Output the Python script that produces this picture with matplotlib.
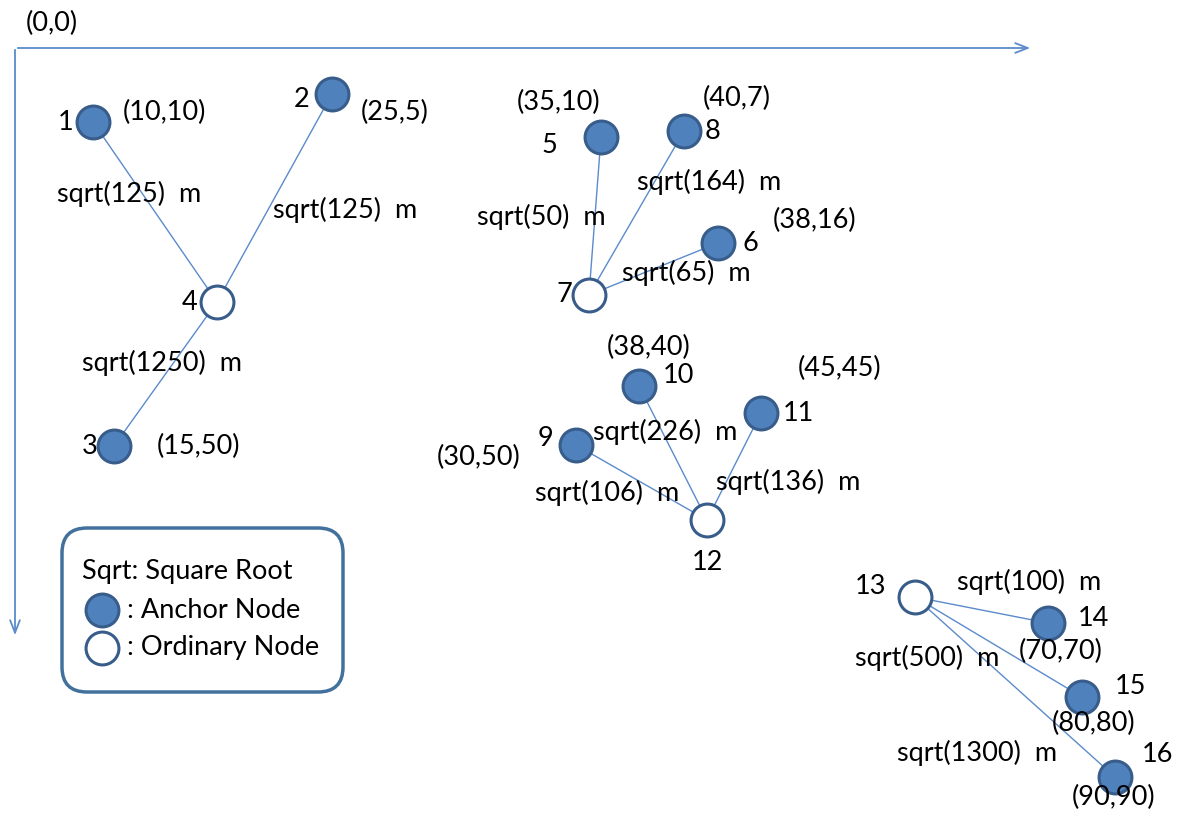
import matplotlib.pyplot as plt
from matplotlib.patches import FancyBboxPatch

# node layout (picture pixels, y grows downward)
node_ids = [1, 2, 3, 4, 5, 6, 7, 8, 9, 10, 11, 12, 13, 14, 15, 16]
node_x = [93, 332, 114, 217, 601, 718, 589, 684, 576, 639, 761, 707, 915, 1048, 1082, 1115]
node_y = [122, 94, 446, 302, 137, 243, 295, 131, 445, 386, 413, 520, 597, 623, 697, 777]
anchor = [True, True, True, False, True, True, False, True,
          True, True, True, False, False, True, True, True]

# where each node number is written (left edge, centre y)
id_lx = [58, 294, 82, 182, 541, 742, 556, 705, 538, 663, 783, 692, 855, 1078, 1115, 1142]
id_ly = [122, 99, 446, 302, 145, 243, 295, 131, 438, 375, 413, 563, 587, 619, 687, 755]

# coordinates of the anchor nodes
coord_text = ['(10,10)', '(25,5)', '(15,50)', '(35,10)', '(38,16)', '(40,7)',
              '(30,50)', '(38,40)', '(45,45)', '(70,70)', '(80,80)', '(90,90)']
coord_lx = [123, 361, 157, 517, 773, 703, 437, 607, 798, 1019, 1052, 1072]
coord_ly = [112, 112, 446, 102, 220, 98, 457, 347, 368, 651, 723, 797]

# links: anchor -> ordinary node, with distance text
edges = [(1, 4), (2, 4), (3, 4), (5, 7), (8, 7), (6, 7),
         (9, 12), (10, 12), (11, 12), (14, 13), (15, 13), (16, 13)]
dist_text = ['sqrt(125)  m', 'sqrt(125)  m', 'sqrt(1250)  m', 'sqrt(50)  m', 'sqrt(164)  m',
             'sqrt(65)  m', 'sqrt(106)  m', 'sqrt(226)  m', 'sqrt(136)  m', 'sqrt(100)  m',
             'sqrt(500)  m', 'sqrt(1300)  m']
dist_lx = [57, 273, 82, 477, 637, 622, 535, 593, 716, 957, 855, 897]
dist_ly = [194, 210, 363, 217, 182, 273, 493, 432, 482, 582, 658, 753]

fill_c = '#4F81BD'
edge_c = '#385D8A'
line_c = '#5B8BCB'
fs = 19.5
plt.rcParams['font.family'] = ['Lato', 'DejaVu Sans']

fig = plt.figure(figsize=(11.79, 8.17), dpi=100)
ax = fig.add_axes([0, 0, 1, 1])
ax.set_xlim(0, 1179)
ax.set_ylim(817, 0)
ax.axis('off')

# axes arrows
ax.annotate('', xy=(1033, 48), xytext=(15, 48),
            arrowprops=dict(arrowstyle='->, head_length=0.9, head_width=0.35', color=line_c, lw=1.3))
ax.annotate('', xy=(15, 638), xytext=(15, 47),
            arrowprops=dict(arrowstyle='->, head_length=0.9, head_width=0.35', color=line_c, lw=1.3))
ax.text(26, 23, '(0,0)', fontsize=fs, va='center', ha='left')

pos = {n: (x, y) for n, x, y in zip(node_ids, node_x, node_y)}
for a, b in edges:
    ax.plot([pos[a][0], pos[b][0]], [pos[a][1], pos[b][1]], color=line_c, lw=1.0, zorder=1)

for n, x, y, a in zip(node_ids, node_x, node_y, anchor):
    ax.scatter(x, y, s=560, facecolor=fill_c if a else 'white', edgecolor=edge_c,
               linewidth=2.2, zorder=3)

for n, x, y in zip(node_ids, id_lx, id_ly):
    ax.text(x, y, str(n), fontsize=fs, va='center', ha='left', zorder=4)
for t, x, y in zip(coord_text, coord_lx, coord_ly):
    ax.text(x, y, t, fontsize=fs, va='center', ha='left', zorder=4)
for t, x, y in zip(dist_text, dist_lx, dist_ly):
    ax.text(x, y, t, fontsize=fs, va='center', ha='left', zorder=4)

# legend box
box = FancyBboxPatch((62 + 25, 528 + 25), 281 - 50, 164 - 50,
                     boxstyle='round,pad=25', facecolor='white', edgecolor='#41719C',
                     linewidth=2.5, zorder=2)
ax.add_patch(box)
ax.text(82, 572, 'Sqrt: Square Root', fontsize=fs, va='center', ha='left', zorder=4)
ax.scatter(102, 610, s=560, facecolor=fill_c, edgecolor=edge_c, linewidth=2.2, zorder=3)
ax.text(127, 610, ': Anchor Node', fontsize=fs, va='center', ha='left', zorder=4)
ax.scatter(102, 648, s=560, facecolor='white', edgecolor=edge_c, linewidth=2.2, zorder=3)
ax.text(127, 648, ': Ordinary Node', fontsize=fs, va='center', ha='left', zorder=4)

fig.savefig('out.png', dpi=100)
